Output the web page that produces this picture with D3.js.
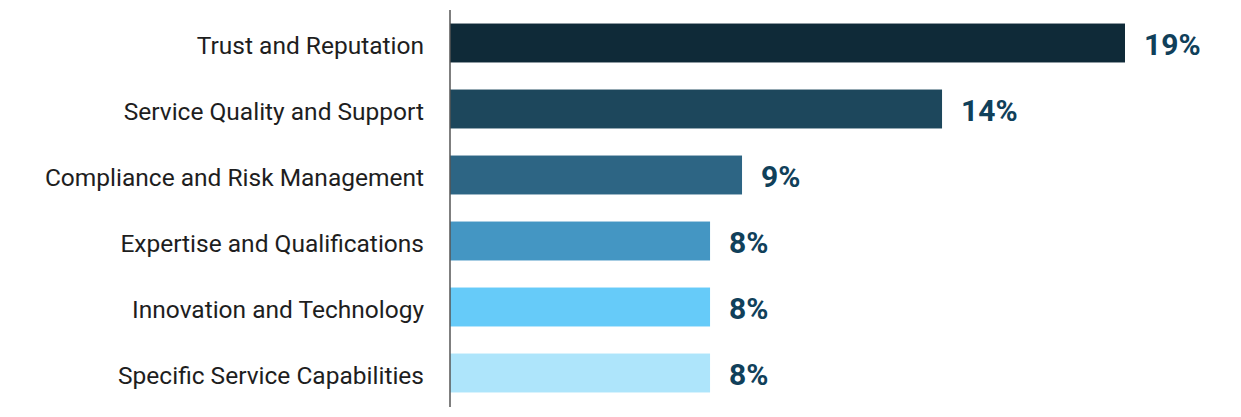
<!DOCTYPE html>
<html>
<head>
<meta charset="utf-8">
<script src="https://cdn.jsdelivr.net/npm/d3@7"></script>
<style>
  body { margin: 0; background: #fff; }
  svg { display: block; }
</style>
</head>
<body>
<svg></svg>
<script>
// data
var categories = ["Trust and Reputation", "Service Quality and Support",
  "Compliance and Risk Management", "Expertise and Qualifications",
  "Innovation and Technology", "Specific Service Capabilities"];
var values = [19, 13.85, 8.22, 7.32, 7.32, 7.32];
var valueLabels = ["19%", "14%", "9%", "8%", "8%", "8%"];
var barColors = ["#0f2a38", "#1d475c", "#2d6584", "#4496c3", "#66cbf9", "#aee5fb"];

var width = 1241;
var height = 417;
var margins = { top: 10, bottom: 10, left: 450, right: 116 };

var svg = d3.select("svg")
  .attr("width", width)
  .attr("height", height);

var xScale = d3.scaleLinear()
  .domain([0, 19])
  .range([margins.left, width - margins.right]);

var yScale = d3.scaleBand()
  .domain(categories)
  .range([10, 406])
  .paddingInner(0.41)
  .paddingOuter(0.205);

svg.append("g")
  .selectAll("rect")
  .data(values)
  .enter()
  .append("rect")
  .attr("x", xScale(0))
  .attr("y", function(d, i) { return yScale(categories[i]); })
  .attr("width", function(d) { return xScale(d) - xScale(0); })
  .attr("height", yScale.bandwidth())
  .attr("fill", function(d, i) { return barColors[i]; });

// category axis, drawn with the library then styled
var yAxis = d3.axisLeft(yScale).tickSize(0).tickPadding(26);
var axisG = svg.append("g")
  .attr("transform", "translate(" + margins.left + ",0)")
  .call(yAxis);
axisG.select(".domain").remove();
axisG.selectAll("text")
  .attr("font-family", "Roboto, sans-serif")
  .attr("font-size", 24.5)
  .attr("fill", "#1e1e1e")
  .attr("dy", "0.45em");

svg.append("line")
  .attr("x1", margins.left).attr("x2", margins.left)
  .attr("y1", 10).attr("y2", 407)
  .attr("stroke", "#555")
  .attr("stroke-width", 1.5);

svg.append("g")
  .selectAll("text")
  .data(values)
  .enter()
  .append("text")
  .attr("x", function(d) { return xScale(d) + 19; })
  .attr("y", function(d, i) { return yScale(categories[i]) + yScale.bandwidth() / 2; })
  .attr("dy", "0.4em")
  .attr("font-family", "Roboto, sans-serif")
  .attr("font-weight", "bold")
  .attr("font-size", 30)
  .attr("fill", "#10405a")
  .text(function(d, i) { return valueLabels[i]; });
</script>
</body>
</html>
